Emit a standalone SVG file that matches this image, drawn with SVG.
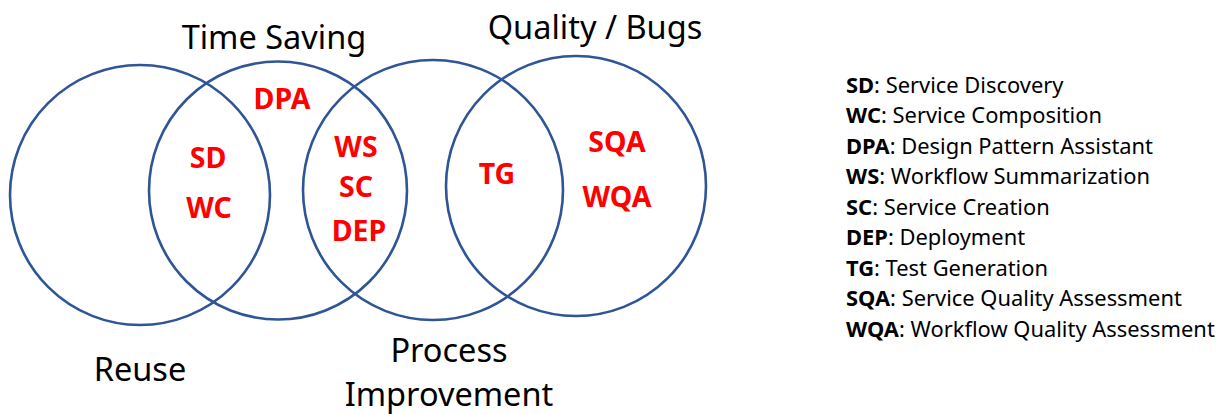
<svg xmlns="http://www.w3.org/2000/svg" width="1231" height="414" viewBox="0 0 1231 414">
  <style>
    .ring { fill: none; stroke: #2F5597; stroke-width: 2.6; }
    .title { font-family: "Noto Sans", "Open Sans", sans-serif; font-size: 32.5px; fill: #000; text-anchor: middle; }
    .tag { font-family: "Noto Sans", "Open Sans", sans-serif; font-size: 28.5px; font-weight: bold; fill: #FF0000; text-anchor: middle; }
    .key { font-family: "Noto Sans", "Open Sans", sans-serif; font-size: 21.9px; fill: #000; }
    .key tspan.abbr { font-weight: bold; }
  </style>

  <!-- Four overlapping category circles -->
  <g id="reuse">
    <circle class="ring" cx="140" cy="195" r="130"/>
    <text class="title" x="140" y="381">Reuse</text>
  </g>
  <g id="time-saving">
    <circle class="ring" cx="278" cy="190.5" r="129"/>
    <text class="title" x="274" y="49">Time Saving</text>
  </g>
  <g id="process-improvement">
    <circle class="ring" cx="433" cy="190" r="130"/>
    <text class="title" x="449" y="362">Process</text>
    <text class="title" x="449" y="406">Improvement</text>
  </g>
  <g id="quality-bugs">
    <circle class="ring" cx="576" cy="186" r="130"/>
    <text class="title" x="595" y="39">Quality / Bugs</text>
  </g>

  <!-- Activity labels placed in their regions -->
  <g id="activities">
    <text class="tag" x="282" y="109">DPA</text>
    <text class="tag" x="208" y="168">SD</text>
    <text class="tag" x="209" y="218">WC</text>
    <text class="tag" x="356" y="157">WS</text>
    <text class="tag" x="356" y="197">SC</text>
    <text class="tag" x="359" y="241">DEP</text>
    <text class="tag" x="497" y="184">TG</text>
    <text class="tag" x="617" y="152">SQA</text>
    <text class="tag" x="617" y="207">WQA</text>
  </g>

  <!-- Abbreviation key -->
  <g id="legend">
    <text class="key" x="846" y="92.5"><tspan class="abbr">SD</tspan>: Service Discovery</text>
    <text class="key" x="846" y="123"><tspan class="abbr">WC</tspan>: Service Composition</text>
    <text class="key" x="846" y="153.5"><tspan class="abbr">DPA</tspan>: Design Pattern Assistant</text>
    <text class="key" x="846" y="184"><tspan class="abbr">WS</tspan>: Workflow Summarization</text>
    <text class="key" x="846" y="214.5"><tspan class="abbr">SC</tspan>: Service Creation</text>
    <text class="key" x="846" y="245"><tspan class="abbr">DEP</tspan>: Deployment</text>
    <text class="key" x="846" y="275.5"><tspan class="abbr">TG</tspan>: Test Generation</text>
    <text class="key" x="846" y="306"><tspan class="abbr">SQA</tspan>: Service Quality Assessment</text>
    <text class="key" x="846" y="336.5"><tspan class="abbr">WQA</tspan>: Workflow Quality Assessment</text>
  </g>
</svg>
